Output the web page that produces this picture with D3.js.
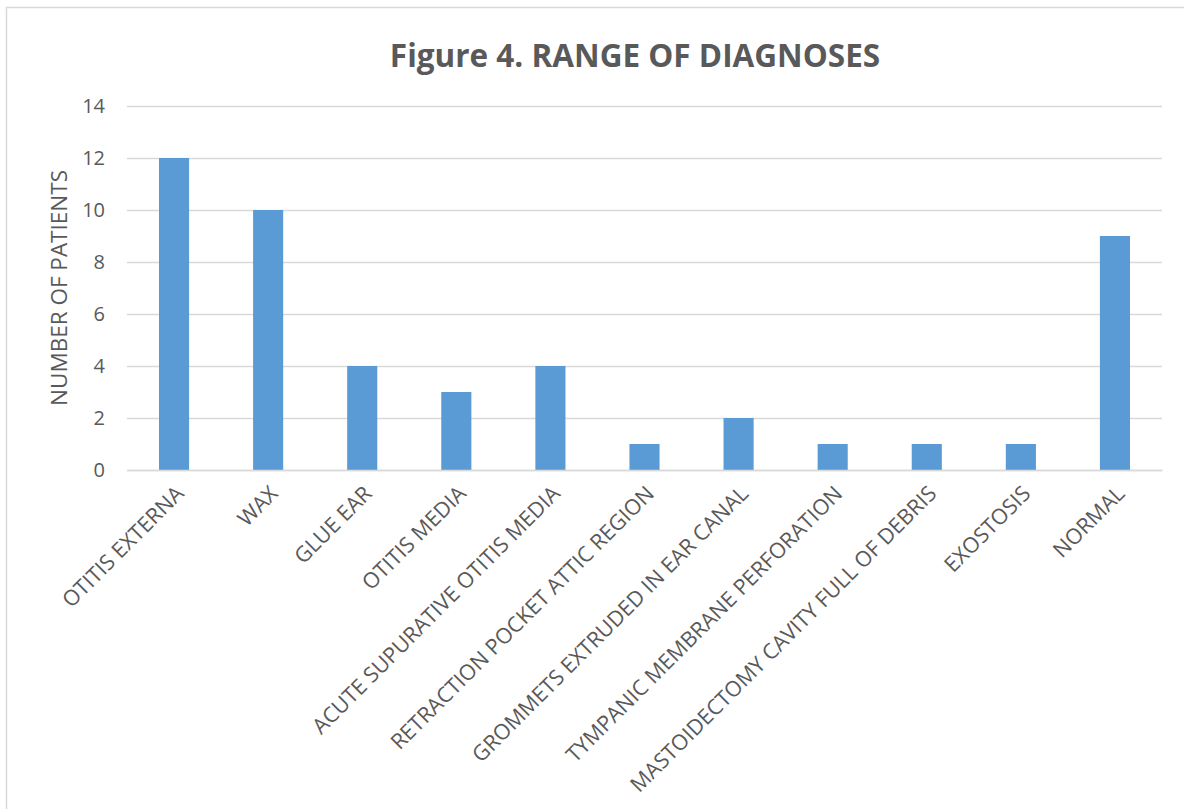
<!DOCTYPE html>
<html>
<head>
<meta charset="utf-8">
<script src="https://cdn.jsdelivr.net/npm/d3@7"></script>
<style>
  html, body { margin: 0; padding: 0; background: #fff; }
  svg { display: block; }
</style>
</head>
<body>
<svg id="chart" width="1184" height="809"></svg>
<script>
// Diagnosis categories and patient counts
const categories = [
  "OTITIS EXTERNA",
  "WAX",
  "GLUE EAR",
  "OTITIS MEDIA",
  "ACUTE SUPURATIVE OTITIS MEDIA",
  "RETRACTION POCKET ATTIC REGION",
  "GROMMETS EXTRUDED IN EAR CANAL",
  "TYMPANIC MEMBRANE PERFORATION",
  "MASTOIDECTOMY CAVITY FULL OF DEBRIS",
  "EXOSTOSIS",
  "NORMAL"
];
const patients = [12, 10, 4, 3, 4, 1, 2, 1, 1, 1, 9];
const yTicks = [0, 2, 4, 6, 8, 10, 12, 14];

const titleText = "Figure 4. RANGE OF DIAGNOSES";
const yAxisTitle = "NUMBER OF PATIENTS";

const W = 1184, H = 809;
const plot = { left: 127, right: 1162, top: 106, bottom: 470 };
const textColor = "#595959";
const gridColor = "#d9d9d9";
const barColor = "#5b9bd5";
const fontFamily = "'Open Sans', 'Noto Sans', sans-serif";

const svg = d3.select("#chart");

// Chart area frame
svg.append("rect")
  .attr("x", 6.5).attr("y", 7.5)
  .attr("width", W + 20).attr("height", H + 20)
  .attr("fill", "#fff")
  .attr("stroke", gridColor)
  .attr("stroke-width", 1.5);

const x = d3.scaleBand()
  .domain(categories)
  .range([plot.left, plot.right])
  .paddingInner(0.68)
  .paddingOuter(0.34);

const y = d3.scaleLinear()
  .domain([0, 14])
  .range([plot.bottom, plot.top]);

// Horizontal gridlines and y tick labels
const yAxis = d3.axisLeft(y)
  .tickValues(yTicks)
  .tickSize(-(plot.right - plot.left))
  .tickPadding(22)
  .tickFormat(d3.format("d"));

const gY = svg.append("g")
  .attr("transform", `translate(${plot.left},0)`)
  .call(yAxis);
gY.select(".domain").remove();
gY.selectAll(".tick line")
  .attr("stroke", gridColor)
  .attr("stroke-width", 1.3);
gY.selectAll(".tick text")
  .attr("fill", textColor)
  .style("font-family", fontFamily)
  .style("font-size", "20px");

// Bars
svg.append("g")
  .selectAll("rect")
  .data(categories)
  .join("rect")
  .attr("x", d => x(d))
  .attr("y", (d, i) => y(patients[i]))
  .attr("width", x.bandwidth())
  .attr("height", (d, i) => y(0) - y(patients[i]))
  .attr("fill", barColor);

// Category axis
const xAxis = d3.axisBottom(x).tickSize(0).tickPadding(0);
const gX = svg.append("g")
  .attr("transform", `translate(0,${plot.bottom})`)
  .call(xAxis);
gX.select(".domain")
  .attr("stroke", gridColor)
  .attr("stroke-width", 1.3);
gX.selectAll(".tick text")
  .attr("fill", textColor)
  .style("font-family", fontFamily)
  .style("font-size", "21.5px")
  .attr("text-anchor", "end")
  .attr("dy", "0")
  .attr("transform", "translate(11,25) rotate(-45)");

// Y axis title
svg.append("text")
  .attr("transform", `translate(67,${(plot.top + plot.bottom) / 2}) rotate(-90)`)
  .attr("text-anchor", "middle")
  .attr("fill", textColor)
  .style("font-family", fontFamily)
  .style("font-size", "22.5px")
  .text(yAxisTitle);

// Chart title
svg.append("text")
  .attr("x", 635)
  .attr("y", 67)
  .attr("text-anchor", "middle")
  .attr("fill", textColor)
  .style("font-family", fontFamily)
  .style("font-weight", "bold")
  .style("font-size", "31.5px")
  .text(titleText);
</script>
</body>
</html>
